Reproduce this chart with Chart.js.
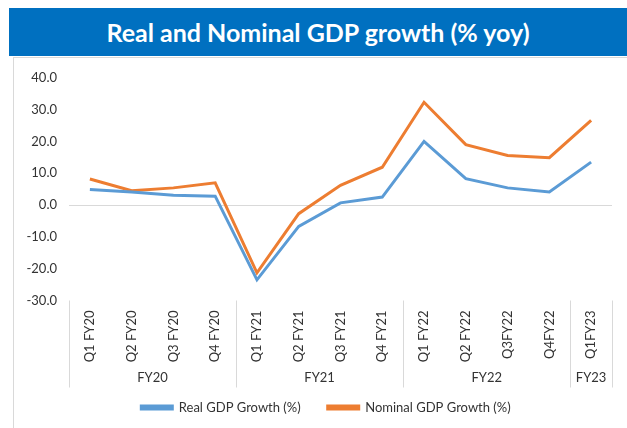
<!DOCTYPE html>
<html>
<head>
<meta charset="utf-8">
<script src="https://cdn.jsdelivr.net/npm/chart.js@4"></script>
<style>
    body { margin: 0; width: 627px; height: 428px; overflow: hidden; background: #fff; font-family: Lato, sans-serif; }
    #banner { position: absolute; left: 9px; top: 8px; width: 618px; height: 48px; background: #0070C0; color: #fff;
              font: bold 25px Lato, sans-serif; text-align: center; line-height: 48px; }
    #frame { position: absolute; left: 13px; top: 57px; width: 620px; height: 400px; border: 1px solid #d9d9d9; }
    #gdpChart { position: absolute; left: 0; top: 0; }
</style>
</head>
<body>
<div id="banner">Real and Nominal GDP growth (% yoy)</div>
<div id="frame"><canvas id="gdpChart" width="613" height="390"></canvas></div>
<script>
// quarters and fiscal year groups
const quarters = ['Q1 FY20', 'Q2 FY20', 'Q3 FY20', 'Q4 FY20', 'Q1 FY21', 'Q2 FY21', 'Q3 FY21', 'Q4 FY21',
    'Q1 FY22', 'Q2 FY22', 'Q3FY22', 'Q4FY22', 'Q1FY23'];
const fiscalYears = ['FY20', 'FY21', 'FY22', 'FY23'];
const quartersPerYear = [4, 4, 4, 1];

const realGrowth = [4.9, 4.1, 3.1, 2.8, -23.5, -6.7, 0.7, 2.5, 20.0, 8.3, 5.4, 4.1, 13.5];
const nominalGrowth = [8.2, 4.5, 5.4, 7.0, -21.3, -2.7, 6.2, 11.9, 32.3, 19.0, 15.6, 14.9, 26.6];

const yTicks = [-30, -20, -10, 0, 10, 20, 30, 40];

const textColor = '#333333';
const lineGray = '#d9d9d9';

// draws the fiscal year row under the quarter labels
const yearGroups = {
    id: 'yearGroups',
    afterLayout(chart) {
        // legend is centred under the plot, not the whole canvas
        chart.legend.left += 26;
    },
    afterDraw(chart) {
        const ctx = chart.ctx;
        const x = chart.scales.x;
        const top = chart.chartArea.bottom;
        const bottom = top + 87;
        const half = (x.getPixelForValue(1) - x.getPixelForValue(0)) / 2;
        ctx.save();
        ctx.strokeStyle = lineGray;
        ctx.lineWidth = 1;
        ctx.fillStyle = textColor;
        ctx.font = '13px Lato';
        ctx.textAlign = 'center';
        ctx.textBaseline = 'middle';
        let start = 0;
        for (let i = 0; i <= fiscalYears.length; i++) {
            const edge = Math.round(x.getPixelForValue(start) - half) + 0.5;
            ctx.beginPath();
            ctx.moveTo(edge, top);
            ctx.lineTo(edge, bottom);
            ctx.stroke();
            if (i < fiscalYears.length) {
                const end = start + quartersPerYear[i];
                const mid = (x.getPixelForValue(start) + x.getPixelForValue(end - 1)) / 2;
                ctx.fillText(fiscalYears[i], mid, top + 77);
                start = end;
            }
        }
        ctx.restore();
    }
};

const ctx = document.getElementById('gdpChart').getContext('2d');

new Chart(ctx, {
    type: 'line',
    data: {
        labels: quarters,
        datasets: [{
            label: 'Real GDP Growth (%)',
            data: realGrowth,
            borderColor: '#5B9BD5',
            backgroundColor: '#5B9BD5',
            borderWidth: 3,
            pointRadius: 0,
            tension: 0
        }, {
            label: 'Nominal GDP Growth (%)',
            data: nominalGrowth,
            borderColor: '#ED7D31',
            backgroundColor: '#ED7D31',
            borderWidth: 3,
            pointRadius: 0,
            tension: 0
        }]
    },
    options: {
        responsive: false,
        animation: false,
        layout: {
            padding: { top: 12, right: 15, bottom: 24, left: 0 }
        },
        scales: {
            x: {
                offset: true,
                grid: { display: false, drawTicks: false },
                border: { display: false },
                ticks: {
                    color: textColor,
                    font: { family: 'Lato', size: 13 },
                    minRotation: 90,
                    maxRotation: 90,
                    autoSkip: false,
                    padding: 10
                },
                afterFit: scale => { scale.height = 73.5; }
            },
            y: {
                min: -30,
                max: 40,
                afterBuildTicks: scale => { scale.ticks = yTicks.map(v => ({ value: v })); },
                grid: {
                    drawTicks: false,
                    color: c => c.tick && c.tick.value === 0 ? lineGray : 'rgba(0,0,0,0)'
                },
                border: { display: false },
                ticks: {
                    color: textColor,
                    font: { family: 'Lato', size: 13 },
                    padding: 12,
                    callback: v => v.toFixed(1)
                },
                afterFit: scale => { scale.width = 55; }
            }
        },
        plugins: {
            legend: {
                position: 'bottom',
                labels: {
                    color: textColor,
                    font: { family: 'Lato', size: 13 },
                    boxWidth: 31,
                    boxHeight: 3,
                    padding: 27
                }
            },
            tooltip: { enabled: false }
        }
    },
    plugins: [yearGroups]
});
</script>
</body>
</html>
